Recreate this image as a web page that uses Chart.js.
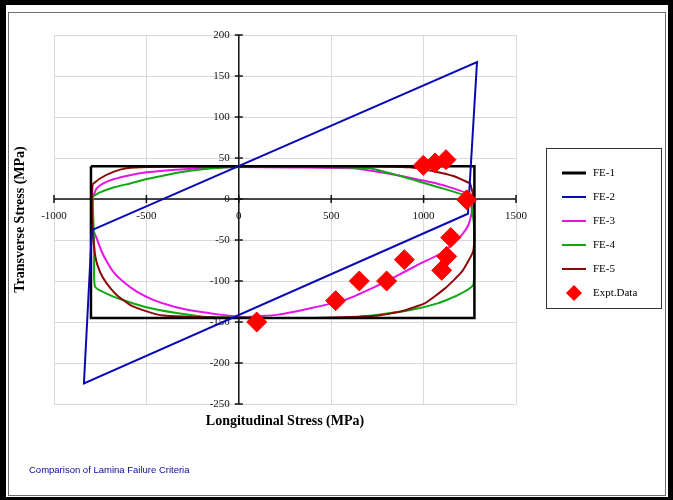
<!DOCTYPE html>
<html>
<head>
<meta charset="utf-8">
<script src="https://cdn.jsdelivr.net/npm/chart.js@4.4.1/dist/chart.umd.min.js"></script>
<style>
  body { margin: 0; background: #fff; }
  canvas { display: block; }
</style>
</head>
<body>
<canvas id="failureChart" width="673" height="500"></canvas>
<script>
// Failure envelopes in the sigma1 / sigma2 plane (MPa).
var fe1X = [-800, 1275, 1275, -800, -800];
var fe1Y = [40, 40, -145, -145, 40];

var fe2X = [-795, 1289, 1240, -838, -795];
var fe2Y = [-38, 167, -18, -225, -38];

var fe3X = [-795, -788, -769, -733, -679, -589, -498, -409, -318, -228, -138, 0, 300, 620, 800, 944, 1071, 1161, 1233, 1260,
  1260, 1242, 1206, 1152, 1080, 971, 845, 719, 575, 394, 214, 34, -102, -228, -354, -463, -552, -625, -679, -715, -742, -769, -791, -795, -795];
var fe3Y = [-15, 3, 13, 19, 24, 29, 32.5, 34.5, 36, 37.4, 38.2, 39, 38.5, 37.4, 31.3, 25, 19, 13, 7, -1,
  -17, -32, -44, -56, -68, -80, -95, -109, -123, -133, -141, -144, -141, -137, -131, -123, -113, -101, -89, -76, -64, -48, -36, -25, -15];

var fe4X = [-791, -751, -679, -589, -498, -409, -318, -228, -138, -48, 300, 600, 709, 890, 980, 1071, 1161, 1215, 1250,
  1272, 1275, 1268, 1188, 1080, 936, 755, 575, 200, -157, -336, -517, -679, -778, -782, -788, -791];
var fe4Y = [3, 8, 14, 19, 24.4, 28.4, 32.6, 35.4, 37.4, 38.7, 39.5, 38.5, 37.4, 27, 21, 15, 9, 5, 0,
  -30, -70, -105, -117, -127, -135, -141, -145, -145, -144, -139, -131, -119, -107, -60, -20, 3];

var fe5X = [-791, -751, -679, -607, -498, 0, 600, 926, 1071, 1161, 1233, 1251, 1272, 1275, 1268, 1206, 1116, 1008, 881, 755,
  400, 0, -409, -498, -589, -661, -715, -751, -775, -790, -796, -791];
var fe5Y = [18, 25, 33, 37.4, 39, 40, 40, 38.6, 33, 28, 21, 19, 0, -40, -64, -89, -109, -127, -137, -142,
  -145, -145, -142, -137, -129, -117, -103, -89, -72, -40, 0, 18];

var exptX = [97, 524, 652, 800, 896, 1098, 1125, 1147, 1233, 998, 1062, 1121];
var exptY = [-150, -124, -100, -100, -74, -87, -70, -47, -1, 41, 44, 48];

var xTicks = { min: -1000, max: 1500, step: 500 };
var yTicks = { min: -250, max: 200, step: 50 };

// Pair two value lists into chart points.
function toPoints(xs, ys) {
  var pts = [];
  for (var i = 0; i < xs.length; i++) {
    pts.push({ x: xs[i], y: ys[i] });
  }
  return pts;
}

function lineSet(label, xs, ys, color, width, order, tension) {
  return {
    label: label,
    data: toPoints(xs, ys),
    showLine: true,
    fill: false,
    borderColor: color,
    backgroundColor: color,
    borderWidth: width,
    pointRadius: 0,
    tension: tension,
    order: order
  };
}

var datasets = [
  lineSet("FE-1", fe1X, fe1Y, "#000000", 2.5, 2, 0),
  lineSet("FE-2", fe2X, fe2Y, "#0a0ab4", 2, 1, 0),
  lineSet("FE-3", fe3X, fe3Y, "#e614e6", 2, 5, 0.15),
  lineSet("FE-4", fe4X, fe4Y, "#10a810", 2, 4, 0.15),
  lineSet("FE-5", fe5X, fe5Y, "#8c0a0a", 2, 3, 0.15),
  {
    label: "Expt.Data",
    data: toPoints(exptX, exptY),
    showLine: false,
    pointStyle: "rectRot",
    pointRadius: 10,
    backgroundColor: "#ff0000",
    borderColor: "#ff0000",
    borderWidth: 1,
    order: 0
  }
];

// Black picture frame behind everything.
var framePlugin = {
  id: "frame",
  beforeDraw: function (chart) {
    var ctx = chart.ctx;
    ctx.save();
    ctx.fillStyle = "#000";
    ctx.fillRect(0, 0, chart.width, chart.height);
    ctx.fillStyle = "#fff";
    ctx.fillRect(6, 5, chart.width - 11, chart.height - 8);
    ctx.strokeStyle = "#6e6e6e";
    ctx.lineWidth = 1;
    ctx.strokeRect(8.5, 12.5, chart.width - 16, chart.height - 17);
    ctx.restore();
  }
};

// Axes crossing at the origin, with ticks through the line and numbers beside it.
var centerAxesPlugin = {
  id: "centerAxes",
  beforeDatasetsDraw: function (chart) {
    var ctx = chart.ctx;
    var xs = chart.scales.x;
    var ys = chart.scales.y;
    var area = chart.chartArea;
    var x0 = xs.getPixelForValue(0);
    var y0 = ys.getPixelForValue(0);
    ctx.save();
    ctx.strokeStyle = "#111";
    ctx.lineWidth = 1.5;
    ctx.beginPath();
    ctx.moveTo(x0, area.top);
    ctx.lineTo(x0, area.bottom);
    ctx.moveTo(area.left, y0);
    ctx.lineTo(area.right, y0);
    ctx.stroke();

    ctx.fillStyle = "#111";
    ctx.font = "11px 'Liberation Serif'";
    ctx.textBaseline = "middle";
    ctx.textAlign = "right";
    ys.ticks.forEach(function (t) {
      var py = ys.getPixelForValue(t.value);
      ctx.beginPath();
      ctx.moveTo(x0 - 4, py);
      ctx.lineTo(x0 + 4, py);
      ctx.stroke();
      ctx.fillText(String(t.value), x0 - 9, py);
    });
    ctx.textAlign = "center";
    xs.ticks.forEach(function (t) {
      var px = xs.getPixelForValue(t.value);
      ctx.beginPath();
      ctx.moveTo(px, y0 - 4);
      ctx.lineTo(px, y0 + 4);
      ctx.stroke();
      ctx.fillText(String(t.value), px, y0 + 17);
    });
    ctx.restore();
  },
  afterDraw: function (chart) {
    var ctx = chart.ctx;
    var area = chart.chartArea;
    ctx.save();
    ctx.fillStyle = "#000";
    ctx.font = "bold 14px 'Liberation Serif'";
    ctx.textAlign = "center";
    ctx.textBaseline = "middle";
    ctx.fillText("Longitudinal Stress (MPa)", (area.left + area.right) / 2, 421);
    ctx.translate(20, (area.top + area.bottom) / 2);
    ctx.rotate(-Math.PI / 2);
    ctx.fillText("Transverse Stress (MPa)", 0, 0);
    ctx.restore();

    ctx.save();
    ctx.fillStyle = "#0a0a96";
    ctx.font = "9.5px 'Liberation Sans'";
    ctx.textAlign = "left";
    ctx.textBaseline = "middle";
    ctx.fillText("Comparison of Lamina Failure Criteria", 29, 470);
    ctx.restore();

    // Legend box on the right.
    ctx.save();
    ctx.strokeStyle = "#333";
    ctx.lineWidth = 1;
    ctx.strokeRect(546.5, 148.5, 115, 160);
    ctx.font = "11px 'Liberation Serif'";
    ctx.textBaseline = "middle";
    ctx.textAlign = "left";
    chart.data.datasets.forEach(function (ds, i) {
      var ly = 173 + i * 24;
      if (ds.showLine) {
        ctx.strokeStyle = ds.borderColor;
        ctx.lineWidth = i === 0 ? 3 : 2;
        ctx.beginPath();
        ctx.moveTo(562, ly);
        ctx.lineTo(586, ly);
        ctx.stroke();
      } else {
        ctx.fillStyle = ds.backgroundColor;
        ctx.beginPath();
        ctx.moveTo(574, ly - 8);
        ctx.lineTo(582, ly);
        ctx.lineTo(574, ly + 8);
        ctx.lineTo(566, ly);
        ctx.closePath();
        ctx.fill();
      }
      ctx.fillStyle = "#000";
      ctx.fillText(ds.label, 593, ly);
    });
    ctx.restore();
  }
};

var config = {
  type: "scatter",
  data: { datasets: datasets },
  options: {
    responsive: false,
    animation: false,
    layout: { padding: { left: 54, top: 35, right: 157, bottom: 96 } },
    plugins: {
      legend: { display: false },
      tooltip: { enabled: false }
    },
    scales: {
      x: {
        type: "linear",
        min: xTicks.min,
        max: xTicks.max,
        ticks: { stepSize: xTicks.step, display: false },
        grid: { color: "#d9d9d9", drawTicks: false },
        border: { display: false },
        afterFit: function (scale) { scale.height = 0; }
      },
      y: {
        type: "linear",
        min: yTicks.min,
        max: yTicks.max,
        ticks: { stepSize: yTicks.step, display: false },
        grid: { color: "#d9d9d9", drawTicks: false },
        border: { display: false },
        afterFit: function (scale) { scale.width = 0; }
      }
    }
  },
  plugins: [framePlugin, centerAxesPlugin]
};

var myChart = new Chart(document.getElementById("failureChart"), config);
</script>
</body>
</html>
